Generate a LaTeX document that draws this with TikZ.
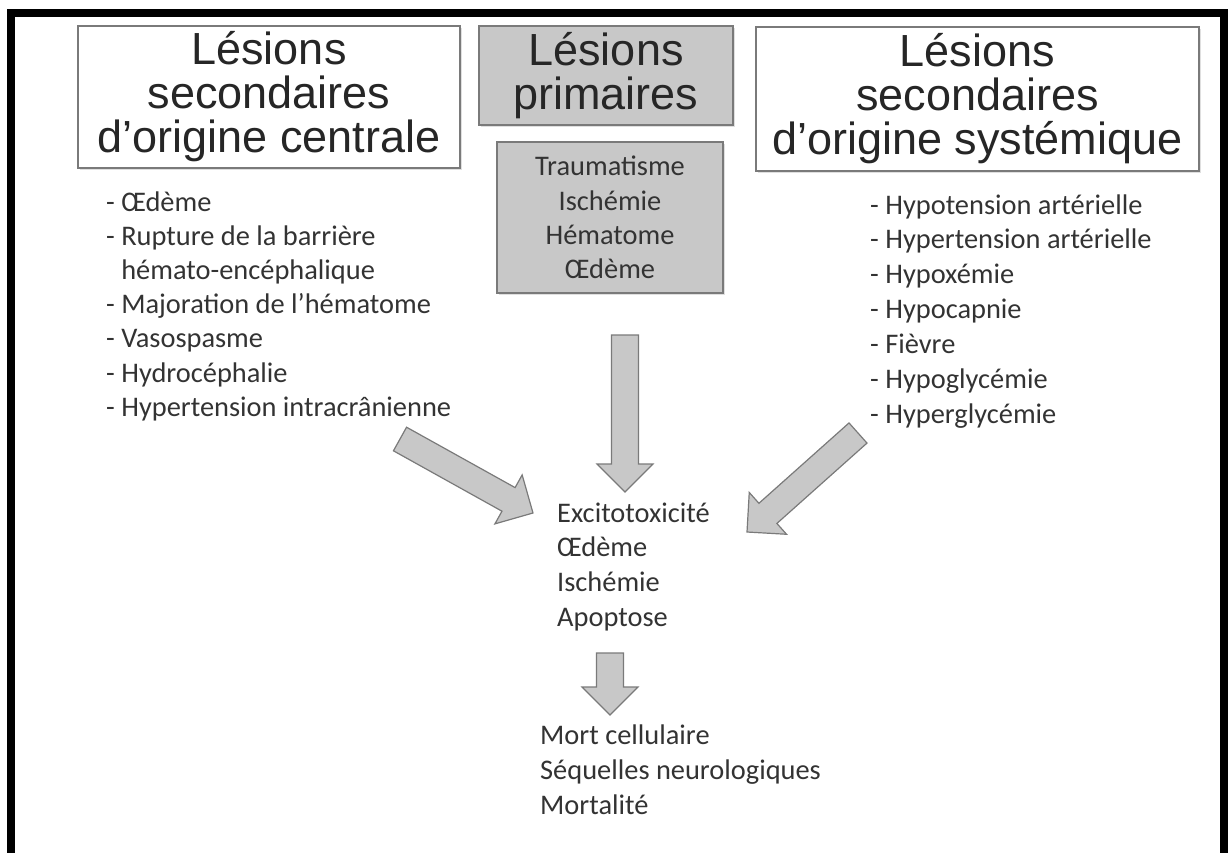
\documentclass[tikz,border=0pt]{standalone}
\usepackage{fontspec}
\setmainfont{Liberation Sans}
\newfontfamily\calibri{Carlito}
\usetikzlibrary{calc,shadows}

\definecolor{grisfond}{HTML}{C8C8C8}
\definecolor{grisbord}{HTML}{7A7A7A}
\definecolor{gristexte}{HTML}{333333}

\tikzset{
  ombre/.style={drop shadow={shadow xshift=1.5pt, shadow yshift=-1.5pt, opacity=0.25}},
  titre/.style={draw=grisbord, line width=1.5pt, inner sep=0pt, align=center, ombre,
    text=black!85, font=\fontsize{45}{44}\selectfont},
  liste/.style={inner sep=0pt, text=gristexte, font=\calibri\fontsize{28.4}{34.3}\selectfont},
  fleche/.style={draw=grisbord, fill=grisfond, line width=1.2pt, line join=miter},
}

% grosse fleche grise : queue, pointe
\def\demitige{13.5pt}
\def\demitete{28pt}
\def\tetelong{28pt}
\newcommand{\blocfleche}[2]{%
  \coordinate (fq) at (#1);
  \coordinate (fp) at (#2);
  \coordinate (fh) at ($(fp)!\tetelong!(fq)$);
  \draw[fleche] ($(fq)!\demitige!90:(fp)$) -- ($(fh)!\demitige!-90:(fq)$)
    -- ($(fh)!\demitete!-90:(fq)$) -- (fp) -- ($(fh)!\demitete!90:(fq)$)
    -- ($(fh)!\demitige!90:(fq)$) -- ($(fq)!\demitige!-90:(fp)$) -- cycle;
}

\begin{document}
\begin{tikzpicture}[x=1pt, y=-1pt]
  \useasboundingbox (0,0) rectangle (1228,852);

  % Cadre noir (ouvert en bas)
  \draw[line width=8pt] (11,860) -- (11,13) -- (1224,13) -- (1224,860);

  % Titres
  \node[titre, fill=white, minimum width=382pt, minimum height=142pt] (centrale) at (269,97)
    {Lésions\\secondaires\\d’origine centrale};
  \node[titre, fill=grisfond, minimum width=254pt, minimum height=99pt] (primaires) at (606,75.5)
    {Lésions\\primaires};
  \node[titre, fill=white, minimum width=443pt, minimum height=144pt] (systemique) at (977.5,99)
    {Lésions\\secondaires\\d’origine systémique};

  % Lesions primaires
  \node[liste, draw=grisbord, line width=1.5pt, fill=grisfond, align=center, ombre,
    minimum width=226pt, minimum height=151pt] (causes) at (610,217.5)
    {Traumatisme\\Ischémie\\Hématome\\Œdème};

  % Liste de gauche
  \foreach \txt [count=\i from 0] in {- Œdème, - Rupture de la barrière,
      \phantom{- }hémato-encéphalique, - Majoration de l’hématome, - Vasospasme,
      - Hydrocéphalie, - Hypertension intracrânienne}
    \node[liste, anchor=base west] (g\i) at (106,211+34.2*\i) {\txt};

  % Liste de droite
  \foreach \txt [count=\i from 0] in {- Hypotension artérielle, - Hypertension artérielle,
      - Hypoxémie, - Hypocapnie, - Fièvre, - Hypoglycémie, - Hyperglycémie}
    \node[liste, anchor=base west] (d\i) at (870,214+34.9*\i) {\txt};

  % Mecanismes
  \foreach \txt [count=\i from 0] in {Excitotoxicité, Œdème, Ischémie, Apoptose}
    \node[liste, anchor=base west] (m\i) at (557,522+34.7*\i) {\txt};

  % Consequences
  \foreach \txt [count=\i from 0] in {Mort cellulaire, Séquelles neurologiques, Mortalité}
    \node[liste, anchor=base west] (r\i) at (540,744+35*\i) {\txt};

  % Fleches
  \blocfleche{400,439}{533,513}
  \blocfleche{625,335}{625,492}
  \blocfleche{858,433}{747,532}
  \blocfleche{610,653}{610,715}

\end{tikzpicture}
\end{document}
